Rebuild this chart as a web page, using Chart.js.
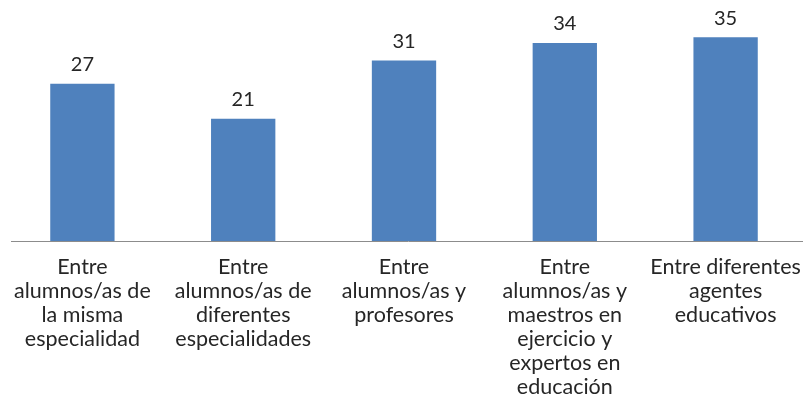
<!DOCTYPE html>
<html>
<head>
<meta charset="utf-8">
<script src="https://cdn.jsdelivr.net/npm/chart.js@4"></script>
<style>
html,body{margin:0;padding:0;background:#fff;overflow:hidden;}
#wrap{width:806px;height:399px;}
</style>
</head>
<body>
<div id="wrap"><canvas id="c"></canvas></div>
<script>
const categories = [
  ["Entre", "alumnos/as de", "la misma", "especialidad"],
  ["Entre", "alumnos/as de", "diferentes", "especialidades"],
  ["Entre", "alumnos/as y", "profesores"],
  ["Entre", "alumnos/as y", "maestros en", "ejercicio y", "expertos en", "educación"],
  ["Entre diferentes", "agentes", "educativos"]
];
const values = [27, 21, 31, 34, 35];

const FONT = "Lato, 'Open Sans', sans-serif";

const valueLabels = {
  id: 'valueLabels',
  afterDatasetsDraw(chart) {
    const ctx = chart.ctx;
    const meta = chart.getDatasetMeta(0);
    ctx.save();
    ctx.font = "20px " + FONT;
    ctx.fillStyle = "#262626";
    ctx.textAlign = "center";
    ctx.textBaseline = "middle";
    meta.data.forEach((bar, i) => {
      ctx.fillText(String(values[i]), bar.x, bar.y - 19);
    });
    ctx.restore();
  }
};

const axisLine = {
  id: 'axisLine',
  afterDatasetsDraw(chart) {
    const ctx = chart.ctx;
    const y = chart.scales.y.getPixelForValue(0);
    ctx.save();
    ctx.strokeStyle = "#8c8c8c";
    ctx.lineWidth = 1;
    ctx.beginPath();
    ctx.moveTo(11, Math.round(y) + 0.5);
    ctx.lineTo(chart.width, Math.round(y) + 0.5);
    ctx.stroke();
    ctx.restore();
  }
};

new Chart(document.getElementById('c'), {
  type: 'bar',
  data: {
    labels: categories,
    datasets: [{
      data: values,
      backgroundColor: '#4f81bd',
      borderWidth: 0,
      barPercentage: 0.8,
      categoryPercentage: 0.5
    }]
  },
  options: {
    responsive: true,
    maintainAspectRatio: false,
    animation: false,
    layout: { padding: { top: 8, left: 2, right: 0, bottom: 0 } },
    plugins: { legend: { display: false }, tooltip: { enabled: false } },
    scales: {
      x: {
        grid: { display: false, drawTicks: false },
        border: { display: false },
        ticks: {
          color: '#262626',
          font: { family: FONT, size: 21.5, lineHeight: 1.116 },
          padding: 14,
          maxRotation: 0,
          autoSkip: false
        },
        afterFit(scale) {
          scale.height = 158;
          scale.paddingLeft = 0;
          scale.paddingRight = 0;
        }
      },
      y: {
        display: false,
        min: 0,
        max: 40
      }
    }
  },
  plugins: [valueLabels, axisLine]
});
</script>
</body>
</html>
